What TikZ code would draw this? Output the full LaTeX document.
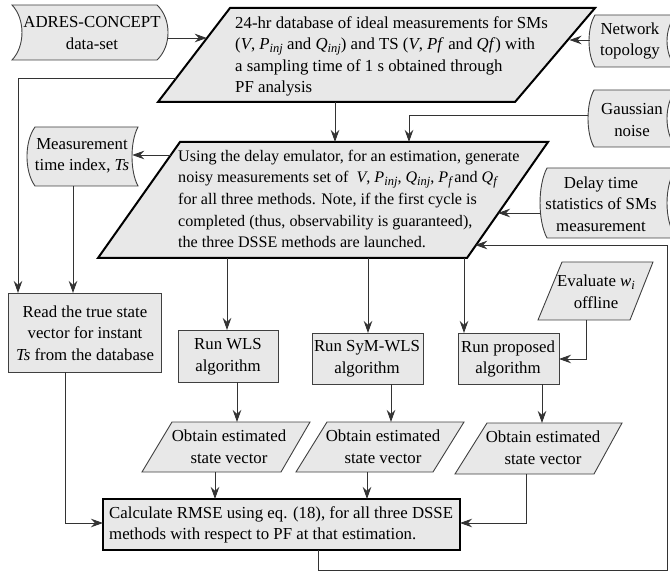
\documentclass[tikz,border=0pt]{standalone}
\usepackage{fontspec}
\setmainfont{Liberation Serif}
\usetikzlibrary{arrows.meta}
\newcommand\fsz{\fontsize{16.8}{21.5}\selectfont}
\newcommand\fsm{\fontsize{16.1}{21.7}\selectfont}
\newcommand\sbx[1]{\raisebox{-0.35ex}{\fontsize{12.5}{12.5}\selectfont\itshape #1}}
\begin{document}
\begin{tikzpicture}[x=1pt,y=-1pt,
  thickshape/.style={draw=black, line width=2pt, fill=black!9, line join=miter},
  thinshape/.style={draw=black!75, line width=0.9pt, fill=black!9},
  conn/.style={draw=black!80, line width=0.9pt},
  arr/.style={conn, -{Stealth[length=12pt,width=8.5pt]}},
  txt/.style={inner sep=0pt, align=center, font=\fsz},
  ltxt/.style={inner sep=0pt, align=left, font=\fsz, anchor=west}]
\useasboundingbox (0,0) rectangle (670,572);
\clip (0,0) rectangle (670,572);

% ---------- shapes ----------
% ADRES (reversed stored data)
\draw[thinshape] (12,5) -- (157,5) .. controls (171.7,18.75) and (171.7,46.25) .. (157,60)
  -- (12,60) .. controls (25.3,46.25) and (25.3,18.75) .. (12,5) -- cycle;
\node[txt] (adres) at (92,33) {ADRES-CONCEPT\\data-set};

% top parallelogram
\draw[thickshape] (230,8) -- (595,8) -- (515,102) -- (158,102) -- cycle;
\node[ltxt] (db) at (235,56.5) {24-hr database of ideal measurements for SMs\\
(\textit{V}, \textit{P}\sbx{inj} and \textit{Q}\sbx{inj}) and TS (\textit{V}, \textit{Pf} and \textit{Qf}) with\\
a sampling time of 1 s obtained through\\
PF analysis};

% Network topology
\draw[thinshape] (595,15) -- (676,15) .. controls (664,28) and (664,54) .. (676,67)
  -- (595,67) .. controls (587,54) and (587,28) .. (595,15) -- cycle;
\node[txt] (net) at (630,41) {Network\\topology};

% Gaussian noise
\draw[thinshape] (594,90) -- (676,90) .. controls (664,104) and (664,133) .. (676,147)
  -- (594,147) .. controls (586,133) and (586,104) .. (594,90) -- cycle;
\node[txt] (gauss) at (632,120) {Gaussian\\noise};

% Delay time statistics
\draw[thinshape] (547,168) -- (676,168) .. controls (664,185.5) and (664,220.5) .. (676,238)
  -- (547,238) .. controls (537.7,220.5) and (537.7,185.5) .. (547,168) -- cycle;
\node[txt] (delay) at (601,204) {Delay time\\statistics of SMs\\measurement};

% middle parallelogram
\draw[thickshape] (180,142) -- (548,142) -- (467,258) -- (98,258) -- cycle;
\node[ltxt, font=\fsm] (emu) at (178,199) {Using the delay emulator, for an estimation, generate\\
noisy measurements set of\ \ \textit{V}, \textit{P}\sbx{inj}, \textit{Q}\sbx{inj}, \textit{P}\sbx{f}\,and \textit{Q}\sbx{f}\\
for all three methods. Note, if the first cycle is\\
completed (thus, observability is guaranteed),\\
the three DSSE methods are launched.};

% Measurement time index
\draw[thinshape] (35,127) -- (138,127) .. controls (130,141.75) and (130,171.25) .. (138,186)
  -- (35,186) .. controls (24.3,171.25) and (24.3,141.75) .. (35,127) -- cycle;
\node[txt] (meas) at (82,156) {Measurement\\time index, \textit{Ts}};

% Read true state
\draw[thinshape] (8,293) rectangle (161,372);
\node[txt] (read) at (85,333) {Read the true state\\vector for instant\\\textit{Ts} from the database};

% Run boxes
\draw[thinshape] (178,330) rectangle (278,382);
\node[txt] (wls) at (228,357) {Run WLS\\algorithm};
\draw[thinshape] (312,333) rectangle (423,384);
\node[txt] (sym) at (367,359) {Run SyM-WLS\\algorithm};
\draw[thinshape] (458,333) rectangle (559,384);
\node[txt] (prop) at (508,359) {Run proposed\\algorithm};

% Evaluate w_i
\draw[thinshape] (562,262) -- (653,262) -- (630,320) -- (538,320) -- cycle;
\node[txt] (evalw) at (596,292) {Evaluate \textit{w}\sbx{i}\\offline};

% Obtain boxes
\draw[thinshape] (172,422) -- (310,422) -- (281,472) -- (142,472) -- cycle;
\node[txt] (ob1) at (229,447) {Obtain estimated\\state vector};
\draw[thinshape] (327,422) -- (464,422) -- (433,472) -- (296,472) -- cycle;
\node[txt] (ob2) at (383,447) {Obtain estimated\\state vector};
\draw[thinshape] (487,423) -- (622,423) -- (594,474) -- (455,474) -- cycle;
\node[txt] (ob3) at (543,448) {Obtain estimated\\state vector};

% Calculate RMSE
\draw[thickshape] (103,499) rectangle (460,550);
\node[ltxt] (calc) at (109,525) {Calculate RMSE using eq. (18), for all three DSSE\\
methods with respect to PF at that estimation.};

% ---------- connector end points ----------
\coordinate (adresR) at (167.5,38);
\coordinate (dbL) at (206.8,38);
\coordinate (netL) at (589.5,40);
\coordinate (dbR) at (569.5,40);
\coordinate (dbB) at (335,102);
\coordinate (emuT) at (335,142);
\coordinate (gaussL) at (588,115);
\coordinate (emuTg) at (409,142);
\coordinate (emuL) at (171,155);
\coordinate (measR) at (132.2,155);
\coordinate (dbLL) at (175.9,78);
\coordinate (readT1) at (18,293);
\coordinate (measB) at (73,186);
\coordinate (readT2) at (73,293);
\coordinate (delayL) at (540,213);
\coordinate (emuR) at (498,213);
\coordinate (emuB1) at (227,258);
\coordinate (wlsT) at (227,330);
\coordinate (emuB2) at (368,258);
\coordinate (symT) at (368,333);
\coordinate (emuB3) at (464,258);
\coordinate (propT) at (464,333);
\coordinate (evalB) at (586,320);
\coordinate (propR) at (559,359);
\coordinate (wlsB) at (237,382);
\coordinate (ob1T) at (237,422);
\coordinate (symB) at (391,384);
\coordinate (ob2T) at (391,422);
\coordinate (propB) at (542,384);
\coordinate (ob3T) at (542,423);
\coordinate (ob1B) at (215,472);
\coordinate (calcT1) at (215,499);
\coordinate (ob2B) at (367,472);
\coordinate (calcT2) at (367,499);
\coordinate (ob3B) at (526,474);
\coordinate (calcR) at (460,523);
\coordinate (readB) at (65,372);
\coordinate (calcL) at (103,523);
\coordinate (calcB) at (318,550);
\coordinate (fb1) at (318,570);
\coordinate (fb2) at (667,570);
\coordinate (fb3) at (667,245);
\coordinate (emuR2) at (475.2,245);

% ---------- connectors ----------
\draw[arr] (adresR) -- (dbL);
\draw[arr] (netL) -- (dbR);
\draw[arr] (dbB) -- (emuT);
\draw[arr] (gaussL) -| (emuTg);
\draw[arr] (emuL) -- (measR);
\draw[arr] (dbLL) -| (readT1);
\draw[arr] (measB) -- (readT2);
\draw[arr] (delayL) -- (emuR);
\draw[arr] (emuB1) -- (wlsT);
\draw[arr] (emuB2) -- (symT);
\draw[arr] (emuB3) -- (propT);
\draw[arr] (evalB) |- (propR);
\draw[arr] (wlsB) -- (ob1T);
\draw[arr] (symB) -- (ob2T);
\draw[arr] (propB) -- (ob3T);
\draw[arr] (ob1B) -- (calcT1);
\draw[arr] (ob2B) -- (calcT2);
\draw[arr] (ob3B) |- (calcR);
\draw[arr] (readB) |- (calcL);
\draw[arr] (calcB) -- (fb1) -- (fb2) -- (fb3) -- (emuR2);
\end{tikzpicture}
\end{document}
